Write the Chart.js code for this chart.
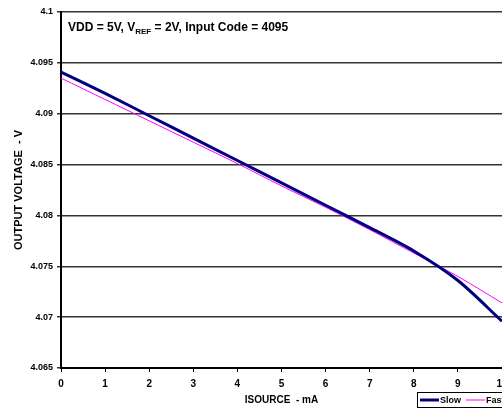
<!DOCTYPE html>
<html>
<head>
<meta charset="utf-8">
<script src="https://cdn.jsdelivr.net/npm/chart.js@4/dist/chart.umd.min.js"></script>
<style>
html,body{margin:0;padding:0;background:#fff;overflow:hidden;width:502px;height:410px;}
#wrap{position:absolute;left:0;top:0;width:560px;height:410px;}
</style>
</head>
<body>
<div id="wrap"><canvas id="c" width="560" height="410"></canvas></div>
<script>
const currents = [0, 1, 2, 3, 4, 5, 6, 7, 8, 9, 10];
const slowValues = [4.0941, 4.0920, 4.0898, 4.0876, 4.0854, 4.0832, 4.0810, 4.0788, 4.0765, 4.0736, 4.0696];
const fastValues = [4.0935, 4.0914, 4.0893, 4.0872, 4.0851, 4.0829, 4.0808, 4.0786, 4.0763, 4.0740, 4.0714];
const seriesNames = ['Slow', 'Fast'];
const yTicks = [4.065, 4.07, 4.075, 4.08, 4.085, 4.09, 4.095, 4.1];
const xTitle = 'ISOURCE  - mA';
const yTitle = 'OUTPUT VOLTAGE  - V';

const FONT = '"Liberation Sans", Arial, sans-serif';

const annotationPlugin = {
  id: 'annot',
  afterDraw(chart) {
    const ctx = chart.ctx;
    const a = chart.chartArea;
    ctx.save();
    ctx.fillStyle = '#000';
    ctx.textBaseline = 'alphabetic';
    ctx.textAlign = 'left';
    let x = a.left + 7, y = a.top + 19;
    const parts = [
      ['VDD = 5V, V', 'bold 12px ' + FONT, 0],
      ['REF', 'bold 8px ' + FONT, 3],
      [' = 2V, Input Code = 4095', 'bold 12px ' + FONT, 0]
    ];
    for (const [t, f, dy] of parts) {
      ctx.font = f;
      ctx.fillText(t, x, y + dy);
      x += ctx.measureText(t).width;
    }
    // legend box
    const lx = 417, ly = 392, lw = 110, lh = 15;
    ctx.fillStyle = '#fff';
    ctx.fillRect(lx, ly, lw, lh);
    ctx.strokeStyle = '#000';
    ctx.lineWidth = 1;
    ctx.strokeRect(lx + 0.5, ly + 0.5, lw, lh);
    ctx.font = 'bold 9px ' + FONT;
    ctx.textBaseline = 'middle';
    let cx = lx + 3;
    chart.data.datasets.forEach((ds) => {
      ctx.strokeStyle = ds.borderColor;
      ctx.lineWidth = ds.borderWidth;
      ctx.beginPath();
      ctx.moveTo(cx, ly + lh / 2 + 0.5);
      ctx.lineTo(cx + 19, ly + lh / 2 + 0.5);
      ctx.stroke();
      ctx.fillStyle = '#000';
      ctx.fillText(ds.label, cx + 20, ly + lh / 2 + 1);
      cx += 20 + ctx.measureText(ds.label).width + 5;
    });
    ctx.restore();
  }
};

new Chart(document.getElementById('c'), {
  type: 'line',
  data: {
    datasets: [
      {
        label: seriesNames[0],
        data: currents.map((c, i) => ({x: c, y: slowValues[i]})),
        borderColor: '#000080',
        borderWidth: 3,
        pointRadius: 0,
        tension: 0.3,
        fill: false
      },
      {
        label: seriesNames[1],
        data: currents.map((c, i) => ({x: c, y: fastValues[i]})),
        borderColor: '#FF00FF',
        borderWidth: 1,
        pointRadius: 0,
        tension: 0.3,
        fill: false
      }
    ]
  },
  options: {
    responsive: false,
    animation: false,
    devicePixelRatio: 1,
    layout: {padding: {left: 12, top: 12, right: 58, bottom: 0}},
    plugins: {legend: {display: false}, tooltip: {enabled: false}},
    scales: {
      x: {
        type: 'linear',
        min: 0, max: 10,
        ticks: {stepSize: 1, color: '#000', font: {family: FONT, weight: 'bold', size: 10}, padding: 6},
        grid: {drawOnChartArea: false, drawTicks: true, tickLength: 4, color: '#000'},
        border: {color: '#000', width: 2},
        title: {display: true, text: xTitle, color: '#000', font: {family: FONT, weight: 'bold', size: 10}, padding: {top: 0, bottom: 4}},
        afterFit(s) { s.height = 42; }
      },
      y: {
        type: 'linear',
        min: 4.065, max: 4.1,
        afterBuildTicks(s) { s.ticks = yTicks.map(v => ({value: v})); },
        ticks: {color: '#000', font: {family: FONT, weight: 'bold', size: 9}, padding: 4,
          callback: v => parseFloat(v.toFixed(3)).toString()},
        grid: {color: '#333', lineWidth: 1.5, tickLength: 4},
        border: {color: '#000', width: 2},
        title: {display: true, text: yTitle, color: '#000', font: {family: FONT, weight: 'bold', size: 11}, padding: {top: 0, bottom: 0}},
        afterFit(s) { s.width = 49; }
      }
    }
  },
  plugins: [annotationPlugin]
});
</script>
</body>
</html>
